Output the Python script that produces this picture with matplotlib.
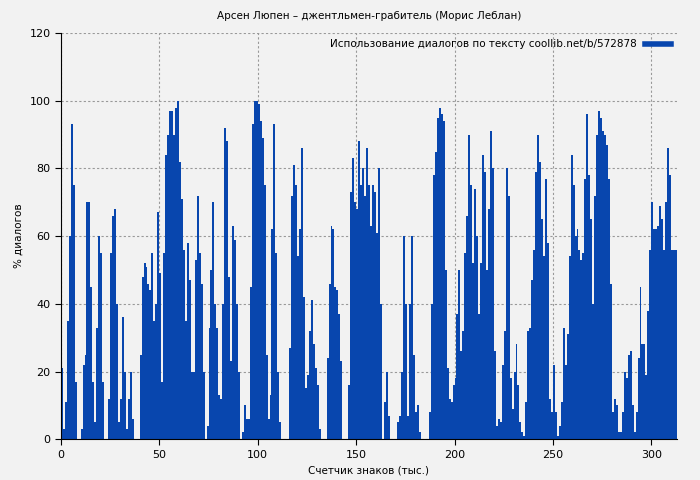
import matplotlib
matplotlib.use("Agg")
import matplotlib.pyplot as plt
from matplotlib.lines import Line2D

# percent of dialogue per thousand characters
dialog_pct = [
    21, 3, 11, 35, 60, 93, 75, 17, 0, 0, 3, 22, 25, 70, 70, 45, 17, 5, 33, 60,
    55, 17, 0, 0, 12, 55, 66, 68, 40, 5, 12, 36, 20, 3, 12, 20, 6, 0, 0, 0,
    25, 48, 52, 51, 46, 44, 55, 35, 40, 67, 49, 17, 55, 84, 90, 97, 97, 90, 98, 100,
    82, 71, 56, 35, 58, 47, 20, 20, 53, 72, 55, 46, 20, 0, 4, 33, 50, 70, 40, 33,
    13, 12, 40, 92, 88, 48, 23, 63, 59, 40, 20, 0, 2, 10, 6, 6, 45, 93, 100, 100,
    99, 94, 89, 75, 25, 6, 13, 62, 93, 55, 20, 5, 0, 0, 0, 0, 27, 72, 81, 75,
    54, 62, 86, 42, 15, 19, 32, 41, 28, 21, 16, 3, 0, 0, 0, 24, 46, 63, 62, 45,
    44, 37, 23, 0, 0, 0, 16, 73, 83, 70, 68, 88, 75, 80, 72, 86, 75, 63, 75, 73,
    61, 80, 40, 0, 11, 20, 7, 0, 0, 0, 0, 5, 7, 20, 60, 40, 7, 40, 60, 25,
    8, 10, 2, 0, 0, 0, 0, 8, 40, 78, 85, 95, 98, 96, 94, 50, 21, 12, 11, 16,
    18, 37, 50, 26, 32, 55, 66, 90, 75, 52, 74, 60, 37, 52, 84, 79, 50, 68, 91, 80,
    26, 4, 6, 5, 22, 32, 80, 72, 18, 9, 20, 28, 16, 5, 2, 1, 11, 32, 33, 47,
    56, 79, 90, 82, 65, 54, 77, 58, 12, 8, 22, 8, 1, 4, 11, 33, 22, 31, 54, 84,
    75, 60, 62, 56, 53, 55, 77, 96, 78, 65, 40, 72, 90, 97, 95, 91, 90, 87, 77, 46,
    8, 12, 10, 2, 2, 8, 20, 18, 25, 26, 10, 2, 8, 24, 45, 28, 28, 19, 38, 56,
    70, 62, 62, 63, 69, 65, 56, 70, 86, 78, 56, 56, 56,
]
char_k = list(range(len(dialog_pct)))

bar_color = "#0846ae"
bg = "#f2f2f2"

fig = plt.figure(figsize=(7, 4.8), dpi=100, facecolor=bg)
ax = fig.add_axes([0.087, 0.085, 0.88, 0.846], facecolor=bg)
ax.bar(char_k, dialog_pct, width=1.0, align="edge", color=bar_color, linewidth=0)

ax.set_xlim(0, len(dialog_pct))
ax.set_ylim(0, 120)
ax.set_xticks([0, 50, 100, 150, 200, 250, 300])
ax.set_yticks([0, 20, 40, 60, 80, 100, 120])
ax.tick_params(labelsize=8, direction="out", length=4)
ax.grid(True, color="#999999", linestyle=(0, (2, 2)), linewidth=0.8)
ax.set_axisbelow(True)
for side in ["top", "right"]:
    ax.spines[side].set_visible(False)

ax.set_title("Арсен Люпен – джентльмен-грабитель (Морис Леблан)", fontsize=7.5, pad=10)
ax.set_xlabel("Счетчик знаков (тыс.)", fontsize=7.5)
ax.set_ylabel("% диалогов", fontsize=7.5)

handle = Line2D([], [], color=bar_color, linewidth=4)
ax.legend([handle], ["Использование диалогов по тексту coollib.net/b/572878"],
          loc="upper right", frameon=False, fontsize=7.5, markerfirst=False,
          handlelength=2.5, borderaxespad=0.2)

fig.savefig("out.png", dpi=100, facecolor=bg)
